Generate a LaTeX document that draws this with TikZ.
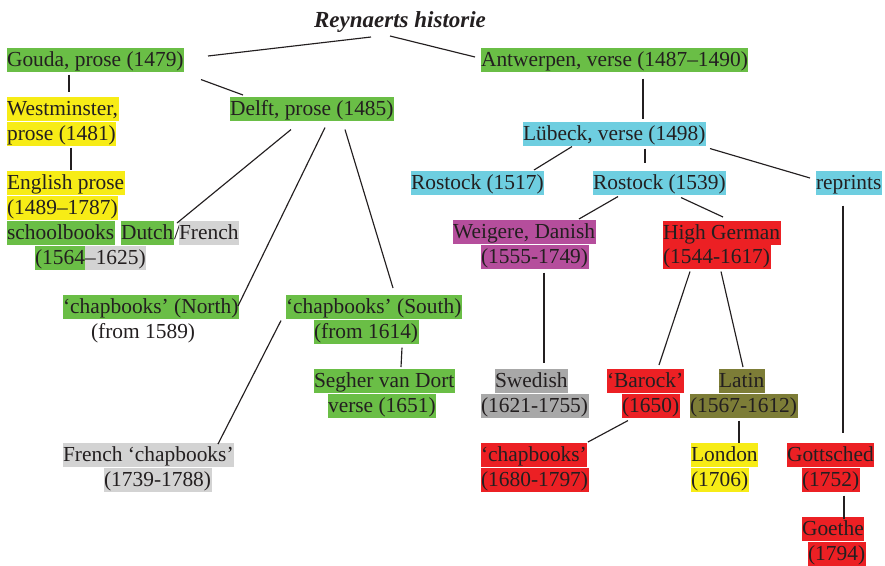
\documentclass[tikz,border=0pt]{standalone}
\usepackage{fontspec}
\setmainfont{Liberation Serif}
\definecolor{grn}{RGB}{106,190,70}
\definecolor{ylw}{RGB}{247,236,22}
\definecolor{cyn}{RGB}{110,206,224}
\definecolor{mgt}{RGB}{181,78,156}
\definecolor{rd}{RGB}{236,32,36}
\definecolor{lgr}{RGB}{211,211,211}
\definecolor{dgr}{RGB}{168,168,168}
\definecolor{olv}{RGB}{125,125,55}
\definecolor{ink}{RGB}{35,31,32}
\tikzset{
	lbl/.style={anchor=north west, inner xsep=0.5pt, inner ysep=0pt, text height=19.4pt, text depth=5pt, text=ink,
		font=\fontsize{21.4}{24}\selectfont},
	gr/.style={lbl, fill=grn},
	yl/.style={lbl, fill=ylw},
	cy/.style={lbl, fill=cyn},
	mg/.style={lbl, fill=mgt},
	rd/.style={lbl, fill=rd},
	lg/.style={lbl, fill=lgr},
	dg/.style={lbl, fill=dgr},
	ol/.style={lbl, fill=olv}
}
\begin{document}
\begin{tikzpicture}[x=1pt, y=-1pt, line width=1.15pt, draw=ink]
			\useasboundingbox (0,0) rectangle (885,565);
			\node	(title) at (400,27) [anchor=base, text=ink, font=\fontsize{23}{24}\selectfont\bfseries\itshape] {Reynaerts historie};
			% Dutch prose branch
			\node	(gouda) at (6,47) [gr] {Gouda, prose (1479)};
			\node	(westm) at (6,96) [yl] {Westminster,};
			\node	(westmb) at (6,121) [yl] {prose (1481)};
			\node	(engl) at (6,170) [yl] {English prose};
			\node	(englb) at (6,195) [yl] {(1489–1787)};
			\node	(school) at (6,220) [gr] {schoolbooks};
			\node	(dutch) at (120,220) [gr] {Dutch};
			\node	(slash) at (173,220) [lbl] {/};
			\node	(french) at (178,220) [lg] {French};
			\node	(yra) at (34,245) [gr] {(1564};
			\node	(yrb) at (84,245) [lg] {–1625)};
			\node	(delft) at (229,96) [gr] {Delft, prose (1485)};
			\node	(north) at (62,294) [gr] {‘chapbooks’ (North)};
			\node	(northb) at (90,319) [lbl] {(from 1589)};
			\node	(south) at (285,294) [gr] {‘chapbooks’ (South)};
			\node	(southb) at (313,319) [gr] {(from 1614)};
			\node	(segher) at (313,368) [gr] {Segher van Dort};
			\node	(segherb) at (327,393) [gr] {verse (1651)};
			\node	(frchap) at (62,442) [lg] {French ‘chapbooks’};
			\node	(frchapb) at (103,467) [lg] {(1739-1788)};
			% verse branch
			\node	(antw) at (480,47) [gr] {Antwerpen, verse (1487–1490)};
			\node	(lubeck) at (522,121) [cy] {Lübeck, verse (1498)};
			\node	(rostA) at (410,170) [cy] {Rostock (1517)};
			\node	(rostB) at (592,170) [cy] {Rostock (1539)};
			\node	(reprints) at (815,170) [cy] {reprints};
			\node	(danish) at (452,219) [mg] {Weigere, Danish};
			\node	(danishb) at (480,244) [mg] {(1555-1749)};
			\node	(highger) at (662,220) [rd] {High German};
			\node	(highgerb) at (662,244) [rd] {(1544-1617)};
			\node	(swed) at (494,368) [dg] {Swedish};
			\node	(swedb) at (480,393) [dg] {(1621-1755)};
			\node	(barock) at (606,368) [rd] {‘Barock’};
			\node	(barockb) at (621,393) [rd] {(1650)};
			\node	(latin) at (718,368) [ol] {Latin};
			\node	(latinb) at (689,393) [ol] {(1567-1612)};
			\node	(chap) at (480,442) [rd] {‘chapbooks’};
			\node	(chapb) at (480,467) [rd] {(1680-1797)};
			\node	(london) at (690,442) [yl] {London};
			\node	(londonb) at (690,467) [yl] {(1706)};
			\node	(gottsch) at (786,442) [rd] {Gottsched};
			\node	(gottschb) at (801,467) [rd] {(1752)};
			\node	(goethe) at (801,516) [rd] {Goethe};
			\node	(goetheb) at (807,541) [rd] {(1794)};
			\draw 
			([shift={(-29,10)}]title.base) edge ([shift={(202,9)}]gouda.north west)
			([shift={(-10,9)}]title.base) edge ([shift={(-5,10)}]antw.north west)
			([shift={(63,2)}]gouda.south west) edge ([shift={(63,-4)}]westm.north west)
			([shift={(195,7)}]gouda.south west) edge ([shift={(14,-1)}]delft.north west)
			([shift={(65,1)}]westmb.south west) edge ([shift={(65,0)}]engl.north west)
			([shift={(62,8)}]delft.south west) edge ([shift={(57,3)}]dutch.north west)
			([shift={(96,6)}]delft.south west) edge ([shift={(176,12)}]north.north west)
			([shift={(116,8)}]delft.south west) edge ([shift={(108,-6)}]south.north west)
			([shift={(-4,1)}]south.south west) edge ([shift={(156,2)}]frchap.north west)
			([shift={(89,3)}]southb.south west) edge ([shift={(88,-1)}]segher.north west)
			([shift={(163,6)}]antw.south west) edge ([shift={(121,-2)}]lubeck.north west)
			([shift={(50,0)}]lubeck.south west) edge ([shift={(124,0)}]rostA.north west)
			([shift={(123,2)}]lubeck.south west) edge ([shift={(53,-7)}]rostB.north west)
			([shift={(188,2)}]lubeck.south west) edge ([shift={(-5,8)}]reprints.north west)
			([shift={(26,1)}]rostB.south west) edge ([shift={(127,0)}]danish.north west)
			([shift={(89,2)}]rostB.south west) edge ([shift={(61,-3)}]highger.north west)
			([shift={(64,3)}]danishb.south west) edge ([shift={(50,-5)}]swed.north west)
			([shift={(28,2)}]highgerb.south west) edge ([shift={(53,-3)}]barock.north west)
			([shift={(59,2)}]highgerb.south west) edge ([shift={(25,-1)}]latin.north west)
			([shift={(7,2)}]barockb.south west) edge ([shift={(108,0)}]chap.north west)
			([shift={(50,2)}]latinb.south west) edge ([shift={(49,1)}]london.north west)
			([shift={(28,10)}]reprints.south west) edge ([shift={(57,-9)}]gottsch.north west)
			([shift={(43,3)}]gottschb.south west) edge ([shift={(43,3)}]goethe.north west)
			
			;
		\end{tikzpicture}
\end{document}
